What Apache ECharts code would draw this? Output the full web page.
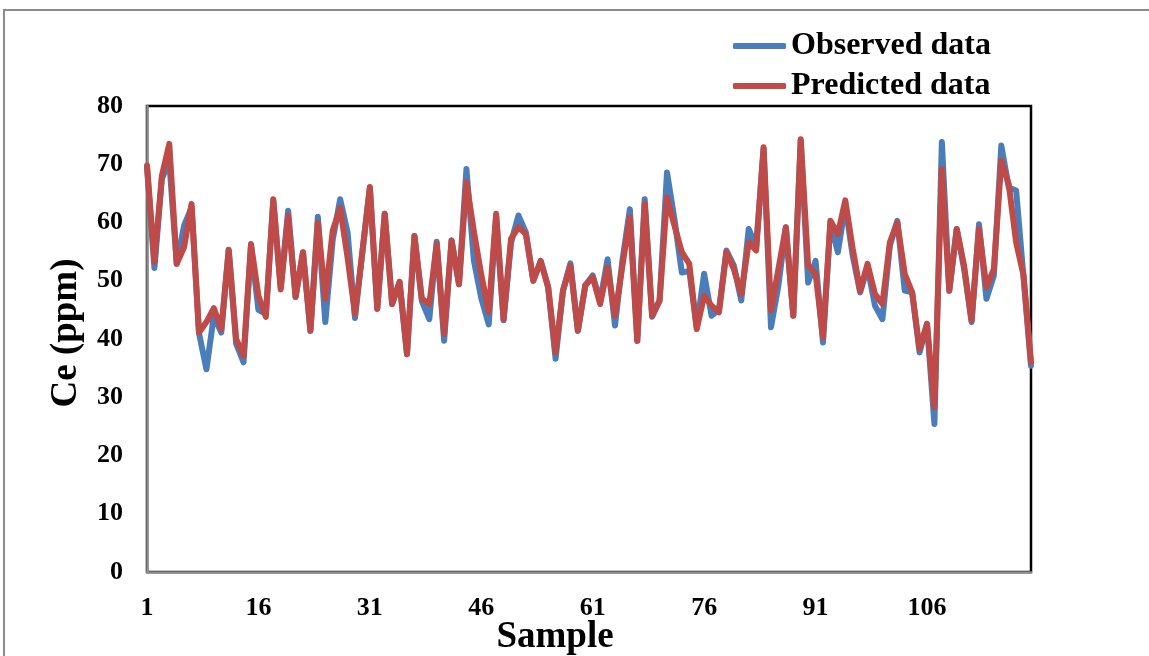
<!DOCTYPE html>
<html>
<head>
<meta charset="utf-8">
<script src="https://cdn.jsdelivr.net/npm/echarts@6/dist/echarts.min.js"></script>
<style>
  html, body { margin: 0; padding: 0; background: #fff; }
  #chart { width: 1149px; height: 656px; }
</style>
</head>
<body>
<div id="chart"></div>
<script>
// sample numbers 1..120 on the x axis
const samples = []
for (let i = 1; i <= 120; i++) samples.push(String(i))

const observed = [
  69.5, 52.2, 67.5, 70.5, 52.9, 59.5, 62.6, 41.0, 34.8, 44.0,
  41.1, 55.3, 39.2, 36.0, 56.0, 45.0, 44.3, 63.7, 48.9, 62.0,
  47.2, 54.9, 41.4, 61.0, 42.9, 57.0, 64.0, 58.3, 43.6, 55.0,
  66.0, 45.2, 61.5, 46.0, 49.8, 37.4, 57.7, 46.5, 43.4, 56.7,
  39.7, 56.9, 49.4, 69.2, 53.5, 47.0, 42.5, 61.0, 43.2, 56.5,
  61.2, 58.3, 50.0, 53.4, 48.9, 36.6, 48.3, 53.0, 41.4, 49.2,
  50.9, 46.5, 53.7, 42.3, 53.5, 62.3, 39.7, 64.0, 43.8, 46.6,
  68.6, 60.6, 51.4, 51.7, 42.0, 51.2, 44.0, 45.0, 55.2, 52.6,
  46.6, 58.9, 55.8, 72.6, 42.0, 49.2, 59.2, 44.0, 74.0, 49.7,
  53.4, 39.4, 60.0, 54.9, 63.0, 54.3, 48.0, 52.3, 45.7, 43.4,
  56.0, 60.3, 48.3, 48.0, 37.7, 42.6, 25.4, 73.8, 48.3, 58.9,
  52.0, 42.9, 59.7, 46.9, 50.9, 73.2, 66.0, 65.5, 50.5, 35.4
]

const predicted = [
  69.8, 53.2, 68.0, 73.5, 52.9, 55.8, 63.2, 41.1, 42.9, 45.3,
  41.7, 55.3, 40.0, 37.1, 56.3, 47.4, 43.8, 64.0, 48.5, 61.2,
  47.2, 54.9, 41.4, 60.0, 46.9, 58.6, 62.5, 54.0, 44.3, 55.0,
  66.1, 45.2, 61.5, 46.0, 49.8, 37.4, 57.7, 46.9, 46.0, 56.3,
  40.9, 56.9, 49.4, 66.9, 58.5, 51.0, 44.6, 61.5, 43.4, 57.2,
  59.2, 58.0, 50.0, 53.4, 48.9, 37.7, 48.3, 52.6, 41.4, 49.2,
  50.6, 46.0, 52.3, 44.0, 52.6, 60.9, 39.7, 63.2, 44.0, 46.6,
  64.3, 59.5, 54.9, 52.9, 41.7, 47.4, 45.7, 44.6, 54.9, 52.0,
  47.7, 56.6, 55.2, 72.9, 44.9, 52.0, 59.2, 44.0, 74.3, 52.6,
  51.2, 40.3, 60.3, 58.0, 63.8, 55.5, 48.3, 52.9, 47.7, 46.0,
  56.6, 60.0, 51.2, 48.0, 38.3, 42.6, 28.3, 69.2, 48.3, 58.9,
  52.5, 43.2, 58.9, 48.9, 52.0, 70.6, 66.6, 56.6, 50.9, 36.0
]

const serif = "'Times New Roman', 'Liberation Serif', serif"

const chart = echarts.init(document.getElementById('chart'))
chart.setOption({
  animation: false,
  backgroundColor: '#fff',
  graphic: [{
    // chart area border (only left/top are inside the picture)
    type: 'rect',
    shape: { x: 4, y: 10, width: 1200, height: 700 },
    style: { fill: 'none', stroke: '#8c8c8c', lineWidth: 2 },
    silent: true
  }],
  legend: {
    orient: 'vertical',
    left: 728,
    top: 25,
    itemWidth: 53,
    itemHeight: 6,
    itemGap: 8,
    icon: 'roundRect',
    textStyle: {
      fontFamily: serif,
      fontWeight: 'bold',
      fontSize: 32,
      lineHeight: 32,
      color: '#000'
    },
    data: ['Observed data', 'Predicted data']
  },
  grid: {
    left: 147,
    right: 118,
    top: 106,
    bottom: 84,
    outerBoundsMode: 'none',
    show: true,
    borderColor: '#000',
    borderWidth: 2.5
  },
  xAxis: {
    type: 'category',
    data: samples,
    boundaryGap: false,
    name: 'Sample',
    nameLocation: 'middle',
    nameGap: 47,
    nameMoveOverlap: false,
    nameTextStyle: {
      fontFamily: serif,
      fontWeight: 'bold',
      fontSize: 37,
      color: '#000',
      padding: [0, 68, 0, 0]
    },
    axisLine: { lineStyle: { color: '#8c8c8c', width: 2.5 } },
    axisTick: { show: false },
    axisLabel: {
      interval: 14,
      margin: 23,
      fontFamily: serif,
      fontWeight: 'bold',
      fontSize: 26,
      color: '#000'
    },
    splitLine: { show: false }
  },
  yAxis: {
    type: 'value',
    min: 0,
    max: 80,
    interval: 10,
    name: 'Ce (ppm)',
    nameLocation: 'middle',
    nameGap: 62,
    nameMoveOverlap: false,
    nameTextStyle: {
      fontFamily: serif,
      fontWeight: 'bold',
      fontSize: 37,
      color: '#000',
      padding: [0, 0, 0, 12]
    },
    axisLine: { show: true, lineStyle: { color: '#8c8c8c', width: 2.5 } },
    axisTick: { show: false },
    axisLabel: {
      margin: 24,
      fontFamily: serif,
      fontWeight: 'bold',
      fontSize: 26,
      color: '#000'
    },
    splitLine: { show: false }
  },
  series: [{
    name: 'Observed data',
    type: 'line',
    data: observed,
    showSymbol: false,
    color: '#4a7ebb',
    lineStyle: { width: 6, cap: 'round', join: 'round' },
    z: 2
  }, {
    name: 'Predicted data',
    type: 'line',
    data: predicted,
    showSymbol: false,
    color: '#be4b48',
    lineStyle: { width: 6, cap: 'round', join: 'round' },
    z: 3
  }]
})
</script>
</body>
</html>
